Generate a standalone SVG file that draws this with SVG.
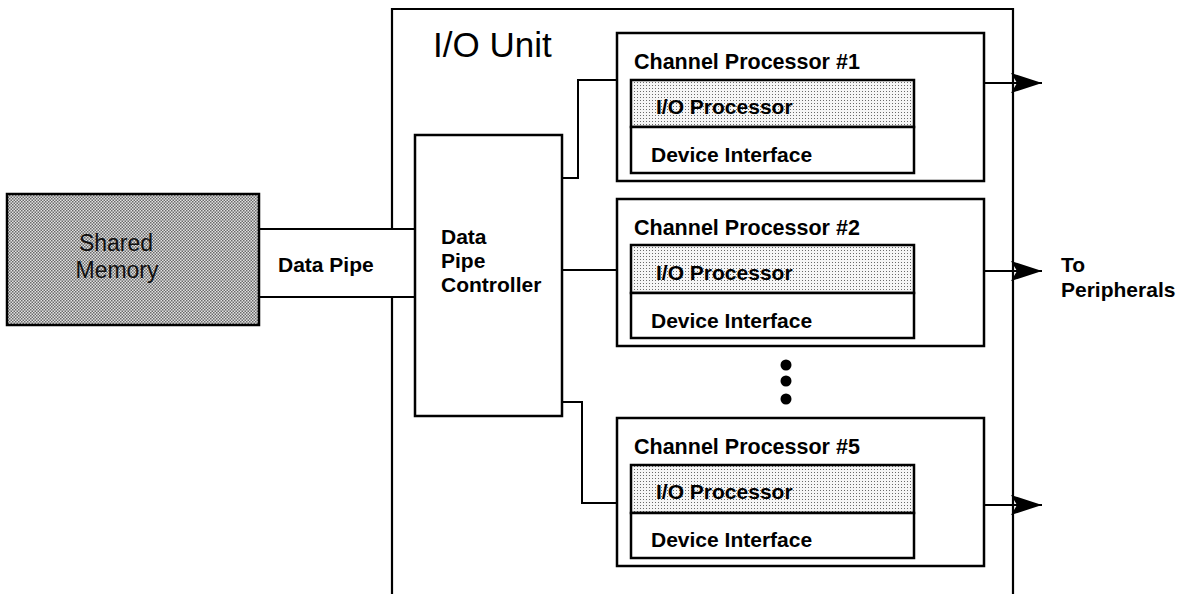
<svg xmlns="http://www.w3.org/2000/svg" width="1179" height="594" viewBox="0 0 1179 594">
  <style>
    .box { fill: #ffffff; stroke: #000; stroke-width: 2.5; }
    .line { fill: none; stroke: #000; stroke-width: 2.2; }
    .wire { fill: none; stroke: #000; stroke-width: 2; }
    .lbl { font-family: "Liberation Sans", Arial, sans-serif; font-weight: bold; font-size: 21px; fill: #000; }
    .ttl { font-size: 21.5px; }
    .big { font-family: "Liberation Sans", Arial, sans-serif; font-size: 35px; fill: #000; }
    .mem { font-family: "Liberation Sans", Arial, sans-serif; font-size: 23px; fill: #111; }
  </style>
  <defs>
    <!-- dense dither for the memory block -->
    <pattern id="dither" width="3" height="3" patternUnits="userSpaceOnUse">
      <rect width="3" height="3" fill="#e2e2e2"/>
      <rect x="0" y="0" width="1.5" height="1.5" fill="#6a6a6a"/>
      <rect x="1.5" y="1.5" width="1.5" height="1.5" fill="#6a6a6a"/>
    </pattern>
    <!-- light dot screen for the processor rows -->
    <pattern id="dots" width="3" height="3" patternUnits="userSpaceOnUse">
      <rect width="3" height="3" fill="#f6f6f6"/>
      <rect x="1" y="1" width="1" height="1" fill="#6a6a6a"/>
    </pattern>
    <marker id="arr" viewBox="0 -11 32 22" markerWidth="32" markerHeight="22" refX="31" refY="0" orient="auto" markerUnits="userSpaceOnUse">
      <path d="M0,-10 L31,0 L0,10 L6,0 Z" fill="#000"/>
    </marker>
  </defs>

  <!-- I/O unit enclosure (left side opens for the data pipe) -->
  <g id="io-unit">
    <path class="line" d="M392,229 V9 H1013 V600 M392,297 V600"/>
    <text class="big" x="433" y="57">I/O Unit</text>
  </g>

  <g id="shared-memory">
    <rect x="7" y="194" width="252" height="131" fill="url(#dither)" stroke="#000" stroke-width="2.5"/>
    <text class="mem" x="116" y="251" text-anchor="middle">Shared</text>
    <text class="mem" x="117" y="278" text-anchor="middle">Memory</text>
  </g>

  <g id="data-pipe">
    <path class="line" d="M259,229 H415 M259,297 H415"/>
    <text class="lbl" x="278" y="272">Data Pipe</text>
  </g>

  <g id="pipe-controller">
    <rect class="box" x="415" y="135" width="147" height="281"/>
    <text class="lbl" x="441" y="244">Data</text>
    <text class="lbl" x="441" y="268">Pipe</text>
    <text class="lbl" x="441" y="292">Controller</text>
  </g>

  <g id="channel-1">
    <rect class="box" x="617" y="33" width="367" height="148"/>
    <text class="lbl ttl" x="634" y="69">Channel Processor #1</text>
    <rect x="631" y="80" width="283" height="47" fill="url(#dots)" stroke="#000" stroke-width="2.5"/>
    <text class="lbl" x="656" y="114">I/O Processor</text>
    <rect class="box" x="631" y="127" width="283" height="46"/>
    <text class="lbl" x="651" y="162">Device Interface</text>
  </g>

  <g id="channel-2">
    <rect class="box" x="617" y="199" width="367" height="147"/>
    <text class="lbl ttl" x="634" y="235">Channel Processor #2</text>
    <rect x="631" y="245" width="283" height="48" fill="url(#dots)" stroke="#000" stroke-width="2.5"/>
    <text class="lbl" x="656" y="280">I/O Processor</text>
    <rect class="box" x="631" y="293" width="283" height="45"/>
    <text class="lbl" x="651" y="328">Device Interface</text>
  </g>

  <g id="ellipsis">
    <circle cx="786" cy="365" r="5.5" fill="#000"/>
    <circle cx="786" cy="381" r="5.5" fill="#000"/>
    <circle cx="786" cy="399" r="5.5" fill="#000"/>
  </g>

  <g id="channel-5">
    <rect class="box" x="617" y="418" width="367" height="148"/>
    <text class="lbl ttl" x="634" y="454">Channel Processor #5</text>
    <rect x="631" y="465" width="283" height="48" fill="url(#dots)" stroke="#000" stroke-width="2.5"/>
    <text class="lbl" x="656" y="499">I/O Processor</text>
    <rect class="box" x="631" y="513" width="283" height="45"/>
    <text class="lbl" x="651" y="547">Device Interface</text>
  </g>

  <g id="peripherals-label">
    <text class="lbl" x="1061" y="272">To</text>
    <text class="lbl" x="1061" y="297">Peripherals</text>
  </g>

  <g id="connectors">
    <path class="wire" d="M562,178 H578 V80 H617"/>
    <path class="wire" d="M562,270 H617"/>
    <path class="wire" d="M562,402 H582 V503 H617"/>
    <path class="wire" d="M984,83 H1042" marker-end="url(#arr)"/>
    <path class="wire" d="M984,271 H1042" marker-end="url(#arr)"/>
    <path class="wire" d="M984,505 H1042" marker-end="url(#arr)"/>
  </g>
</svg>
